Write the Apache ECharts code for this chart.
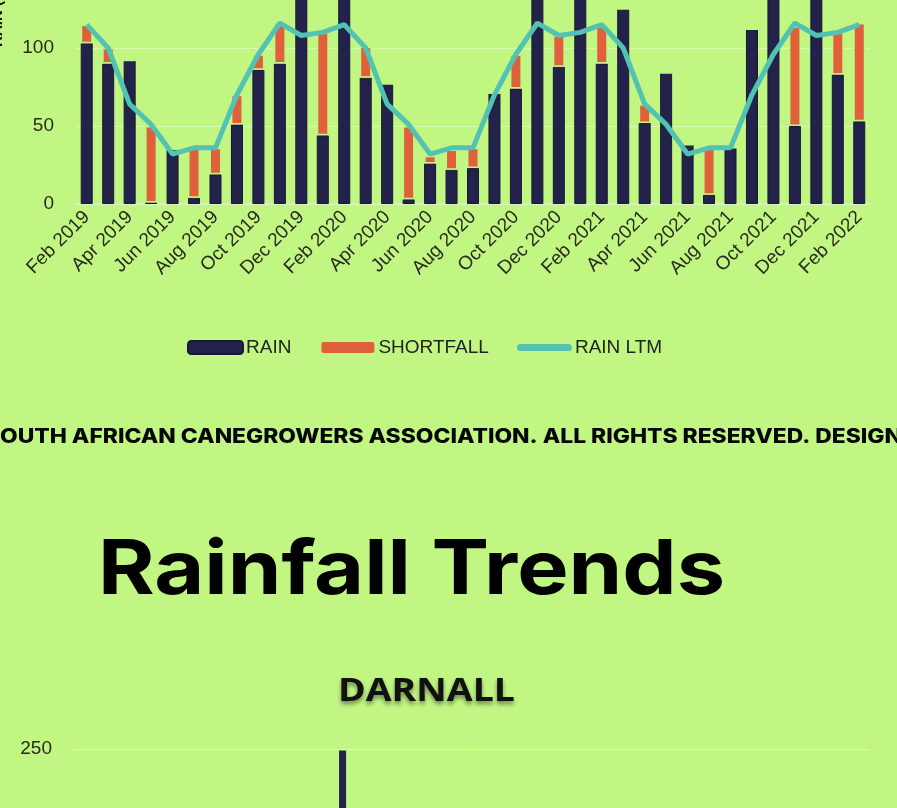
<!DOCTYPE html>
<html>
<head>
<meta charset="utf-8">
<script src="https://cdn.jsdelivr.net/npm/echarts@6/dist/echarts.min.js"></script>
<style>
html,body{margin:0;padding:0;background:#c1f683;overflow:hidden;width:897px;height:808px;position:relative;}
#c{position:absolute;left:0;top:-186px;width:897px;height:1500px;}
</style>
</head>
<body>
<div id="c"></div>
<script>
const months = ['Feb 2019','Mar 2019','Apr 2019','May 2019','Jun 2019','Jul 2019','Aug 2019','Sep 2019','Oct 2019','Nov 2019','Dec 2019','Jan 2020','Feb 2020','Mar 2020','Apr 2020','May 2020','Jun 2020','Jul 2020','Aug 2020','Sep 2020','Oct 2020','Nov 2020','Dec 2020','Jan 2021','Feb 2021','Mar 2021','Apr 2021','May 2021','Jun 2021','Jul 2021','Aug 2021','Sep 2021','Oct 2021','Nov 2021','Dec 2021','Jan 2022','Feb 2022'];
const rain = [103, 90, 92, 1, 35, 4, 19, 51, 86, 90, 145, 44, 160, 81, 77, 3, 26, 22, 23, 71, 74, 150, 88, 140, 90, 125, 52, 84, 38, 6, 36, 112, 155, 50, 165, 83, 53];
const shortfall = [12, 10, 0, 49, 0, 32, 17, 19, 10, 26, 0, 66, 0, 20, 0, 47, 5, 13, 13, 0, 22, 0, 20, 0, 24, 0, 12, 0, 0, 30, 0, 0, 0, 64, 0, 27, 63];
const rainLtm = [115, 100, 64, 51, 32, 36, 36, 70, 96, 116, 108, 110, 115, 100, 64, 51, 32, 36, 36, 70, 96, 116, 108, 110, 115, 100, 64, 51, 32, 36, 36, 70, 96, 116, 108, 110, 115];
const darnallRain = [null, null, null, null, null, null, null, null, null, null, null, null, 249, null, null, null, null, null, null, null, null, null, null, null, null, null, null, null, null, null, null, null, null, null, null, null, null];
const yTicks1 = {min: 0, max: 250, interval: 50};
const yTicks2 = {min: 0, max: 250, interval: 50};

const footerText = 'OUTH AFRICAN CANEGROWERS ASSOCIATION. ALL RIGHTS RESERVED. DESIGN';
const pageTitle = 'Rainfall Trends';
const chartTitle2 = 'DARNALL';

const NAVY = '#23224a', ORANGE = '#e0603b', TEAL = '#52c2b3', BG = '#c1f683';
const OFF = 186; // container is shifted up by this many pixels

const cv = document.createElement('canvas').getContext('2d');
function w(font, s){ cv.font = font; return cv.measureText(s).width; }
const footFont = '800 20px Inter';
const footScale = 902 / w(footFont, footerText);
const sW = w(footFont, 'S') * footScale;
const titleFont = '700 75px Inter';
const titleScale = 627 / w(titleFont, pageTitle);
const dFont = '700 33px "Open Sans"';
const dScale = 177 / w(dFont, chartTitle2);

const chart = echarts.init(document.getElementById('c'));
const axisTxt = {fontFamily: 'Liberation Sans', fontSize: 19, color: '#2a2a20'};
const lineIcon = 'path://M0,0 M0,13 M3.5,3 L51.5,3 A3.5,3.5 0 0 1 51.5,10 L3.5,10 A3.5,3.5 0 0 1 3.5,3 Z M55,13 M55,0';
chart.setOption({
  backgroundColor: BG,
  animation: false,
  legend: {
    left: 182, top: 333 + OFF, itemWidth: 55, itemHeight: 13, itemGap: 28,
    textStyle: {fontFamily: 'Liberation Sans', fontSize: 19, color: '#222', padding: [0, 0, 0, -2]},
    data: [{name: 'RAIN'}, {name: 'SHORTFALL'}, {name: 'RAIN LTM', icon: lineIcon, itemStyle: {color: TEAL}}]
  },
  grid: [
    {left: 76, right: 27, top: 204 + OFF - 390, height: 390, containLabel: false, outerBoundsMode: 'none'},
    {left: 74, right: 28, top: 749 + OFF, height: 390, containLabel: false, outerBoundsMode: 'none'}
  ],
  xAxis: [
    {type: 'category', gridIndex: 0, data: months,
     axisLine: {lineStyle: {color: '#dcebd0', width: 1.5}}, axisTick: {show: false},
     axisLabel: Object.assign({interval: 1, rotate: 45, margin: 10}, axisTxt)},
    {type: 'category', gridIndex: 1, data: months, axisLine: {show: false}, axisTick: {show: false}, axisLabel: {show: false}}
  ],
  yAxis: [
    {type: 'value', gridIndex: 0, min: yTicks1.min, max: yTicks1.max, interval: yTicks1.interval,
     name: 'RAIN (MM)', nameLocation: 'middle', nameRotate: 90, nameGap: 71,
     nameTextStyle: {fontFamily: 'Liberation Sans', fontWeight: 'bold', fontSize: 15, color: '#111'},
     axisLine: {show: false}, axisTick: {show: false},
     splitLine: {lineStyle: {color: 'rgba(235,255,215,0.55)', width: 1}},
     axisLabel: Object.assign({margin: 22}, axisTxt)},
    {type: 'value', gridIndex: 1, min: yTicks2.min, max: yTicks2.max, interval: yTicks2.interval,
     axisLine: {show: false}, axisTick: {show: false},
     splitLine: {lineStyle: {color: 'rgba(235,255,215,0.55)', width: 1}},
     axisLabel: Object.assign({margin: 22}, axisTxt)}
  ],
  series: [
    {name: 'RAIN', type: 'bar', stack: 'r', xAxisIndex: 0, yAxisIndex: 0, data: rain, barWidth: 12,
     itemStyle: {color: NAVY, borderColor: '#181836', borderWidth: 1}},
    {name: 'SHORTFALL', type: 'bar', stack: 'r', xAxisIndex: 0, yAxisIndex: 0, data: shortfall, barWidth: 12,
     itemStyle: {color: ORANGE, borderColor: BG, borderWidth: 1.5}},
    {name: 'RAIN LTM', type: 'line', xAxisIndex: 0, yAxisIndex: 0, data: rainLtm, symbol: 'none',
     lineStyle: {color: TEAL, width: 5}, itemStyle: {color: TEAL}, z: 5},
    {name: 'DARNALL RAIN', type: 'bar', xAxisIndex: 1, yAxisIndex: 1, data: darnallRain, barWidth: 7,
     itemStyle: {color: NAVY}}
  ],
  graphic: [
    {type: 'text', x: -sW, y: 437 + OFF, scaleX: footScale,
     style: {text: 'S' + footerText, font: footFont, fill: '#050505', textVerticalAlign: 'middle', textAlign: 'left'}},
    {type: 'text', x: 98, y: 534 + OFF, scaleX: titleScale,
     style: {text: pageTitle, font: titleFont, fill: '#000', textVerticalAlign: 'top', textAlign: 'left'}},
    {type: 'text', x: 338, y: 692 + OFF, scaleX: dScale,
     style: {text: chartTitle2, font: dFont, fill: '#111', textVerticalAlign: 'middle', textAlign: 'left',
             textShadowColor: 'rgba(0,0,0,0.45)', textShadowBlur: 4, textShadowOffsetY: 3}}
  ]
});
</script>
</body>
</html>
